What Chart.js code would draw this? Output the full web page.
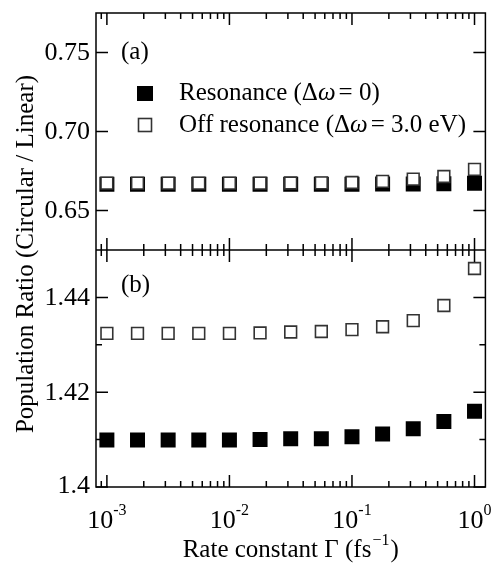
<!DOCTYPE html>
<html>
<head>
<meta charset="utf-8">
<script src="https://cdn.jsdelivr.net/npm/chart.js@4/dist/chart.umd.min.js"></script>
<style>
  html, body { margin: 0; padding: 0; background: #fff; }
  #wrap { width: 496px; height: 566px; }
</style>
</head>
<body>
<div id="wrap"><canvas id="chart" width="496" height="566"></canvas></div>
<script>
// ---------- Data ----------
const rateConstants = [0.001, 0.001778, 0.003162, 0.005623, 0.01, 0.01778, 0.03162, 0.05623, 0.1, 0.1778, 0.3162, 0.5623, 1.0];

// panel (a)
const resonanceA    = [0.6666, 0.6666, 0.6666, 0.6666, 0.6666, 0.6666, 0.6666, 0.6666, 0.6666, 0.6667, 0.6668, 0.6669, 0.6672];
const offResonanceA = [0.6673, 0.6673, 0.6673, 0.6673, 0.6673, 0.6673, 0.6674, 0.6675, 0.6677, 0.6684, 0.6699, 0.6715, 0.6760];

// panel (b)
const resonanceB    = [1.4099, 1.4099, 1.4099, 1.4099, 1.4099, 1.4100, 1.4102, 1.4102, 1.4106, 1.4112, 1.4123, 1.4138, 1.4160];
const offResonanceB = [1.4324, 1.4324, 1.4324, 1.4324, 1.4324, 1.4325, 1.4327, 1.4328, 1.4332, 1.4338, 1.4351, 1.4383, 1.4461];

const xTickExponents = [-3, -2, -1, 0];
const yTicksA = [0.65, 0.70, 0.75];
const yLabelsA = ["0.65", "0.70", "0.75"];
const yTicksB = [1.40, 1.42, 1.44];
const yLabelsB = ["1.4", "1.42", "1.44"];
const yMinorB = [1.41, 1.43];

const legendLabels = ["Resonance (\u0394", "Off resonance (\u0394"];
const legendTails = ["= 0)", "= 3.0 eV)"];

const SERIF = "'Liberation Serif', 'Times New Roman', serif";

// ---------- Helpers ----------
function points(values) {
  return rateConstants.map((x, i) => ({ x: x, y: values[i] }));
}

function filledSet(values, axis) {
  return {
    data: points(values), yAxisID: axis, order: 1, showLine: false,
    pointStyle: "rect", pointRadius: 10.6, pointBorderWidth: 0,
    pointBackgroundColor: "#000", pointBorderColor: "#000"
  };
}

function openSet(values, axis) {
  return {
    data: points(values), yAxisID: axis, order: 0, showLine: false,
    pointStyle: "rect", pointRadius: 8.3, pointBorderWidth: 1.6,
    pointBackgroundColor: "#fff", pointBorderColor: "#333"
  };
}

function yScale(min, max, ticks) {
  return {
    stack: "panels", stackWeight: 1, min: min, max: max,
    grid: { display: false, drawTicks: false },
    border: { display: false },
    ticks: { display: false },
    afterBuildTicks: (s) => { s.ticks = ticks.map(v => ({ value: v })); },
    afterFit: (s) => {
      s.width = 96;
      s.paddingTop = 0; s.paddingBottom = 0;
    }
  };
}

function textWithSup(ctx, base, sup, cx, y, size) {
  ctx.font = size + "px " + SERIF;
  const wb = ctx.measureText(base).width;
  ctx.font = Math.round(size * 0.62) + "px " + SERIF;
  const ws = ctx.measureText(sup).width;
  const left = cx - (wb + ws) / 2;
  ctx.font = size + "px " + SERIF;
  ctx.fillText(base, left, y);
  ctx.font = Math.round(size * 0.62) + "px " + SERIF;
  ctx.fillText(sup, left + wb, y - size * 0.5);
}

// ---------- Frame, ticks and labels ----------
const panelFrame = {
  id: "panelFrame",
  afterDraw(chart) {
    const ctx = chart.ctx;
    const area = chart.chartArea;
    const xs = chart.scales.x, ya = chart.scales.yA, yb = chart.scales.yB;
    ctx.save();
    ctx.strokeStyle = "#000";
    ctx.fillStyle = "#000";
    ctx.lineWidth = 1.5;

    ctx.strokeRect(area.left, area.top, area.right - area.left, area.bottom - area.top);
    ctx.beginPath();
    ctx.moveTo(area.left, ya.bottom);
    ctx.lineTo(area.right, ya.bottom);
    ctx.stroke();

    // x ticks on every horizontal edge
    const edges = [[area.top, 1], [ya.bottom, -1], [yb.top, 1], [area.bottom, -1]];
    ctx.beginPath();
    for (let e = -4; e <= 1; e++) {
      for (let m = 1; m <= 9; m++) {
        const v = m * Math.pow(10, e);
        if (v < xs.min || v > xs.max) continue;
        const px = xs.getPixelForValue(v);
        const len = m === 1 ? 12 : 6;
        edges.forEach(([y, dir]) => {
          ctx.moveTo(px, y);
          ctx.lineTo(px, y + dir * len);
        });
      }
    }
    // y ticks, both sides
    const yTick = (scale, v, len) => {
      const py = scale.getPixelForValue(v);
      ctx.moveTo(area.left, py); ctx.lineTo(area.left + len, py);
      ctx.moveTo(area.right, py); ctx.lineTo(area.right - len, py);
    };
    yTicksA.forEach(v => yTick(ya, v, 12));
    yTicksB.forEach(v => yTick(yb, v, 12));
    yMinorB.forEach(v => yTick(yb, v, 6));
    ctx.stroke();

    // y tick labels
    ctx.font = "26px " + SERIF;
    ctx.textAlign = "right";
    ctx.textBaseline = "middle";
    yTicksA.forEach((v, i) => ctx.fillText(yLabelsA[i], area.left - 6, ya.getPixelForValue(v) + 1));
    yTicksB.forEach((v, i) => ctx.fillText(yLabelsB[i], area.left - 6, yb.getPixelForValue(v) - (i === 0 ? 2 : 0) + 1));

    // x tick labels
    ctx.textAlign = "left";
    ctx.textBaseline = "alphabetic";
    xTickExponents.forEach(e => {
      textWithSup(ctx, "10", String(e), xs.getPixelForValue(Math.pow(10, e)), 528, 26);
    });

    // x title
    const titleY = 557;
    ctx.font = "25px " + SERIF;
    const t1 = "Rate constant \u0393 (fs", t3 = ")";
    const w1 = ctx.measureText(t1).width, w3 = ctx.measureText(t3).width;
    ctx.font = "16px " + SERIF;
    const w2 = ctx.measureText("\u22121").width + 2;
    let tx = (area.left + area.right) / 2 - (w1 + w2 + w3) / 2;
    ctx.font = "25px " + SERIF;
    ctx.fillText(t1, tx, titleY);
    ctx.font = "16px " + SERIF;
    ctx.fillText("\u22121", tx + w1 + 1, titleY - 12);
    ctx.font = "25px " + SERIF;
    ctx.fillText(t3, tx + w1 + w2, titleY);

    // y title
    ctx.save();
    ctx.translate(33, 254);
    ctx.rotate(-Math.PI / 2);
    ctx.textAlign = "center";
    ctx.textBaseline = "alphabetic";
    ctx.font = "25px " + SERIF;
    ctx.fillText("Population Ratio (Circular / Linear)", 0, 0);
    ctx.restore();

    // panel letters
    ctx.textAlign = "left";
    ctx.textBaseline = "middle";
    ctx.font = "25px " + SERIF;
    ctx.fillText("(a)", 121, 52);
    ctx.fillText("(b)", 121, 285);

    // legend
    ctx.fillRect(137, 86, 16, 15);
    ctx.fillStyle = "#fff";
    ctx.strokeStyle = "#333";
    ctx.lineWidth = 1.6;
    ctx.fillRect(138.5, 118.5, 13, 13);
    ctx.strokeRect(138.5, 118.5, 13, 13);
    ctx.fillStyle = "#000";
    [93, 125].forEach((cy, i) => {
      let lx = 179;
      ctx.font = "25px " + SERIF;
      ctx.fillText(legendLabels[i], lx, cy);
      lx += ctx.measureText(legendLabels[i]).width;
      ctx.font = "italic 25px " + SERIF;
      ctx.fillText("\u03c9", lx, cy);
      lx += ctx.measureText("\u03c9").width + 3;
      ctx.font = "25px " + SERIF;
      ctx.fillText(legendTails[i], lx, cy);
    });
    ctx.restore();
  }
};

// ---------- Chart ----------
const ctx = document.getElementById("chart").getContext("2d");
new Chart(ctx, {
  type: "scatter",
  data: {
    datasets: [
      openSet(offResonanceA, "yA"),
      filledSet(resonanceA, "yA"),
      openSet(offResonanceB, "yB"),
      filledSet(resonanceB, "yB")
    ]
  },
  options: {
    responsive: false,
    animation: false,
    layout: { padding: { left: 0, right: 5, top: 13, bottom: 0 } },
    plugins: { legend: { display: false }, tooltip: { enabled: false } },
    scales: {
      x: {
        type: "logarithmic", min: 0.000815, max: 1.227,
        grid: { display: false, drawTicks: false },
        border: { display: false },
        ticks: { display: false },
        afterFit: (s) => {
          s.height = 79;
          s.paddingLeft = 0; s.paddingRight = 0;
        }
      },
      yB: yScale(1.40, 1.4500, yTicksB),
      yA: yScale(0.625, 0.775, yTicksA)
    }
  },
  plugins: [panelFrame]
});
</script>
</body>
</html>
